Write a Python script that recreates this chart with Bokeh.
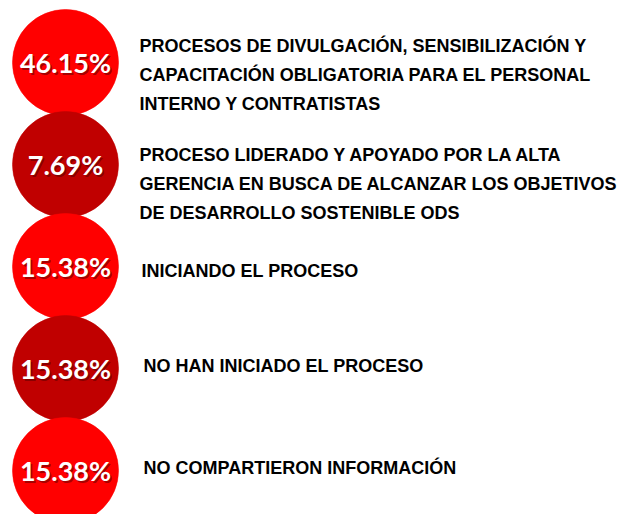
from bokeh.plotting import figure
from bokeh.models import Range1d, ColumnDataSource
from bokeh.core.properties import value
from bokeh.embed import file_html
from bokeh.resources import INLINE

# ---- data ----
percentages = [46.15, 7.69, 15.38, 15.38, 15.38]
labels = [
    "PROCESOS DE DIVULGACIÓN, SENSIBILIZACIÓN Y\nCAPACITACIÓN OBLIGATORIA PARA EL PERSONAL\nINTERNO Y CONTRATISTAS",
    "PROCESO LIDERADO Y APOYADO POR LA ALTA\nGERENCIA EN BUSCA DE ALCANZAR LOS OBJETIVOS\nDE DESARROLLO SOSTENIBLE ODS",
    "INICIANDO EL  PROCESO",
    "NO HAN INICIADO EL PROCESO",
    "NO COMPARTIERON INFORMACIÓN",
]
colors = ["#FF0000", "#C00000", "#FF0000", "#C00000", "#FF0000"]

# ---- layout ----
W, H = 628, 514
cx, cy0, step, r = 65, 62, 102, 53
label_x = [139, 139, 141, 143, 143]
label_dy = [12, 19, 4, -3, -3]

n = len(percentages)
ys = [cy0 + i * step for i in range(n)]
src = ColumnDataSource(dict(
    x=[cx] * n,
    y=ys,
    pct=[f"{v:.2f}%" for v in percentages],
    color=colors,
    lx=label_x,
    ly=[y + d for y, d in zip(ys, label_dy)],
    label=labels,
    sx=[cx + 1.5] * n,
    sy=[y + 1.5 for y in ys],
))

p = figure(width=W, height=H, output_backend="svg", toolbar_location=None,
           x_range=Range1d(0, W), y_range=Range1d(H, 0),
           min_border=0)
p.axis.visible = False
p.grid.visible = False
p.outline_line_color = None
p.background_fill_color = "white"

p.circle(x="x", y="y", radius=r, fill_color="color", line_color="color",
         line_alpha=0.6, source=src)

# text shadow
p.text(x="sx", y="sy", text="pct", source=src, text_color="#5a0000",
       text_alpha=0.55, text_font=value("Lato"), text_font_style="bold",
       text_font_size="27px", text_align="center", text_baseline="middle")
p.text(x="x", y="y", text="pct", source=src, text_color="white",
       text_font=value("Lato"), text_font_style="bold",
       text_font_size="27px", text_align="center", text_baseline="middle")

p.text(x="lx", y="ly", text="label", source=src, text_color="black",
       text_font=value("Liberation Sans"), text_font_style="bold",
       text_font_size="18px", text_align="left", text_baseline="middle",
       text_line_height=1.45)

open("out.html", "w").write(file_html(p, INLINE))
